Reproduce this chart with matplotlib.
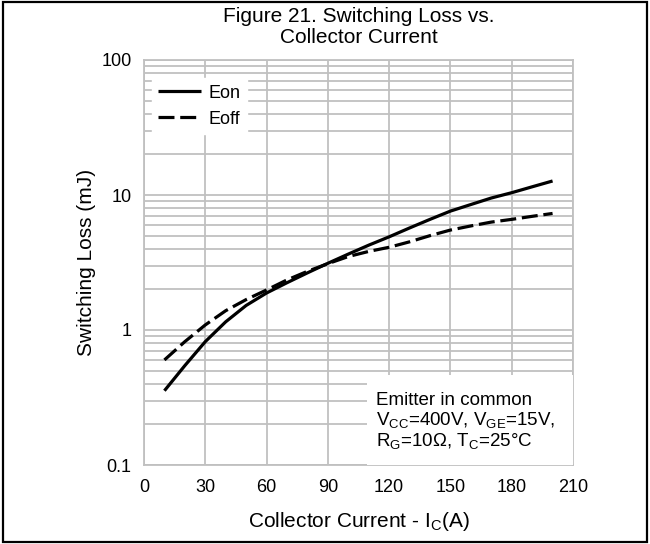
import matplotlib
matplotlib.use("Agg")
import matplotlib.pyplot as plt
from matplotlib.patches import Rectangle
from matplotlib.ticker import FixedLocator, NullFormatter

plt.rcParams['font.family'] = ['Liberation Sans', 'DejaVu Sans']
plt.rcParams['mathtext.fontset'] = 'custom'
plt.rcParams['mathtext.rm'] = 'Liberation Sans'
plt.rcParams['mathtext.it'] = 'Liberation Sans'

# Collector current (A)
current = [10, 20, 30, 40, 50, 60, 70, 80, 90, 100,
           110, 120, 130, 140, 150, 160, 170, 180, 190, 200]
# Turn-on switching loss (mJ)
eon = [0.355, 0.545, 0.82, 1.15, 1.52, 1.88, 2.24, 2.65, 3.12, 3.65,
       4.25, 4.9, 5.7, 6.6, 7.6, 8.5, 9.5, 10.4, 11.5, 12.7]
# Turn-off switching loss (mJ)
eoff = [0.60, 0.82, 1.09, 1.39, 1.68, 1.98, 2.35, 2.72, 3.1, 3.5,
        3.82, 4.1, 4.5, 5.0, 5.5, 5.9, 6.3, 6.6, 6.95, 7.3]

x_ticks = [0, 30, 60, 90, 120, 150, 180, 210]
y_ticks = [0.1, 1, 10, 100]
y_tick_labels = ["0.1", "1", "10", "100"]

grid_color = "#c0c0c0"

fig = plt.figure(figsize=(6.5, 5.44), dpi=100)
ax = fig.add_axes([144 / 650, 1 - 465 / 544, 429 / 650, 405 / 544])

ax.set_yscale("log")
ax.set_xlim(0, 210)
ax.set_ylim(0.1, 100)

ax.set_xticks(x_ticks)
ax.set_xticklabels([str(v) for v in x_ticks])
ax.set_yticks(y_ticks)
ax.set_yticklabels(y_tick_labels)
minor = [m * d for d in (0.1, 1, 10) for m in range(2, 10)]
ax.yaxis.set_minor_locator(FixedLocator(minor))
ax.yaxis.set_minor_formatter(NullFormatter())

ax.grid(True, which="both", axis="y", color=grid_color, lw=1.3)
ax.grid(True, which="major", axis="x", color=grid_color, lw=1.3)
ax.set_axisbelow(True)
for sp in ax.spines.values():
    sp.set_color(grid_color)
    sp.set_linewidth(1.3)
ax.tick_params(which="both", length=0, labelsize=13)
ax.tick_params(axis="x", pad=10)
ax.tick_params(axis="y", pad=9)

ax.plot(current, eon, color="black", lw=2.3, label="Eon", solid_capstyle="butt")
ax.plot(current, eoff, color="black", lw=2.3, label="Eoff",
        linestyle=(0, (5.0, 1.8)), dash_capstyle="butt")

leg = ax.legend(loc="upper left", bbox_to_anchor=(0.018, 0.955), fontsize=13,
                frameon=True, fancybox=False, framealpha=1, edgecolor="white",
                handlelength=2.4, handletextpad=0.4, labelspacing=0.5,
                borderpad=0.35, borderaxespad=0)

# condition box in the lower right corner
box = Rectangle((367 / 650, 1 - 465 / 544), (573 - 367) / 650, (465 - 375) / 544,
                transform=fig.transFigure, facecolor="white", edgecolor="none",
                zorder=3)
ax.add_artist(box)
box.set_transform(fig.transFigure)
cond_lines = [
    "Emitter in common",
    r"V$_{\mathrm{CC}}$=400V, V$_{\mathrm{GE}}$=15V,",
    r"R$_{\mathrm{G}}$=10Ω, T$_{\mathrm{C}}$=25°C",
]
for text, base in zip(cond_lines, (405, 425.5, 446)):
    ax.text(376 / 650, 1 - base / 544, text, transform=fig.transFigure,
            fontsize=13.5, va="baseline", ha="left", zorder=4)

ax.set_title("Figure 21. Switching Loss vs.\nCollector Current",
             fontsize=15, pad=12, linespacing=1.15)
ax.set_xlabel(r"Collector Current - I$_{\mathrm{C}}$(A)", fontsize=15, labelpad=10)
ax.set_ylabel("Switching Loss (mJ)", fontsize=15, labelpad=4)

# outer frame around the whole figure
fig.patches.append(Rectangle((0.004, 0.004), 0.992, 0.992, transform=fig.transFigure,
                             facecolor="none", edgecolor="black", lw=1.6))

fig.savefig("out.png", dpi=100)
